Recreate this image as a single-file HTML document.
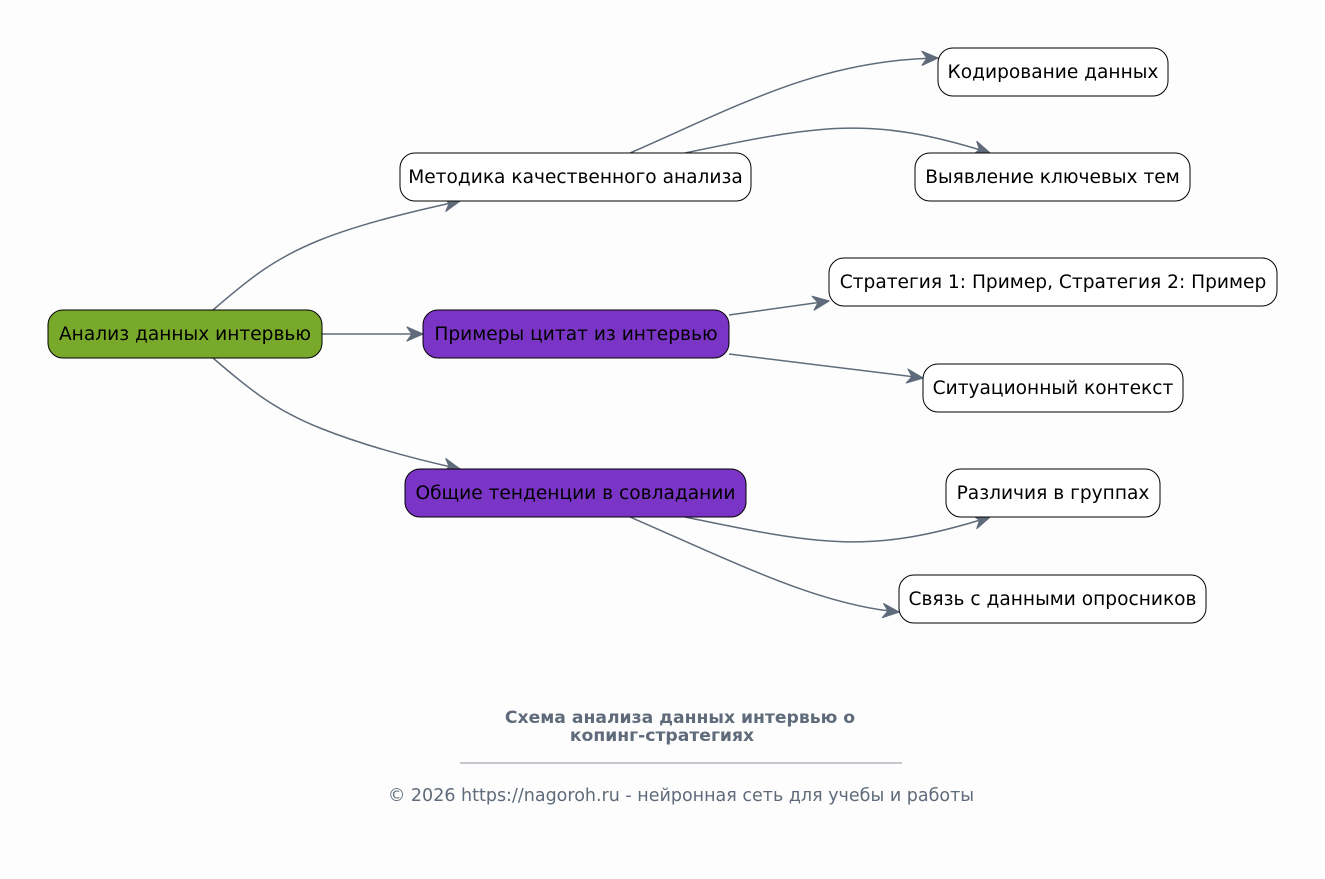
<!DOCTYPE html>
<html><head><meta charset="utf-8"><style>
html,body{margin:0;padding:0;background:#fdfdfd;}
svg{display:block;}
text{font-family:"DejaVu Sans","Liberation Sans",sans-serif;}
</style></head><body>
<svg width="1325" height="879" viewBox="0 0 1325 879" xmlns="http://www.w3.org/2000/svg">
<defs>
<marker id="ar" viewBox="0 0 20 20" refX="18" refY="10" markerWidth="20" markerHeight="20" markerUnits="userSpaceOnUse" orient="auto">
<path d="M2,3 L18,10 L2,17 L7,10 Z" fill="#5f6b7a" stroke="#5f6b7a" stroke-width="1.2" stroke-linejoin="round"/>
</marker>
</defs>
<g fill="none" stroke="#5f6b7a" stroke-width="1.5" marker-end="url(#ar)">
<path d="M213,310 C250,278 275,258 320,240 C360,224 410,212 460,201"/>
<path d="M322,334 L423,334"/>
<path d="M213,358 C250,390 275,410 320,428 C360,444 410,458 460,469"/>
<path d="M630,153 C740,105 820,60 938,58"/>
<path d="M685,153 C820,125 870,115 990,153"/>
<path d="M729,315 L829,301"/>
<path d="M729,354 L923,378"/>
<path d="M685,517 C820,545 870,555 990,517"/>
<path d="M630,517 C740,565 820,605 899,612"/>
</g>
<g stroke="#000" stroke-width="1">
<rect x="48" y="310" width="274" height="48" rx="15" fill="#79a92a"/>
<rect x="400" y="153" width="351" height="48" rx="15" fill="#fff"/>
<rect x="423" y="310" width="306" height="48" rx="15" fill="#7b35c6"/>
<rect x="405" y="469" width="341" height="48" rx="15" fill="#7b35c6"/>
<rect x="938" y="48" width="230" height="48" rx="15" fill="#fff"/>
<rect x="915" y="153" width="275" height="48" rx="15" fill="#fff"/>
<rect x="829" y="258" width="448" height="48" rx="15" fill="#fff"/>
<rect x="923" y="364" width="260" height="48" rx="15" fill="#fff"/>
<rect x="946" y="469" width="214" height="48" rx="15" fill="#fff"/>
<rect x="899" y="575" width="307" height="48" rx="15" fill="#fff"/>
</g>
<g font-size="18.6" fill="#000" text-anchor="middle">
<text x="185" y="340">Анализ данных интервью</text>
<text x="575.5" y="183">Методика качественного анализа</text>
<text x="576" y="340">Примеры цитат из интервью</text>
<text x="575.5" y="499">Общие тенденции в совладании</text>
<text x="1053" y="78">Кодирование данных</text>
<text x="1052.5" y="183">Выявление ключевых тем</text>
<text x="1053" y="288">Стратегия 1: Пример, Стратегия 2: Пример</text>
<text x="1053" y="394">Ситуационный контекст</text>
<text x="1053" y="499">Различия в группах</text>
<text x="1052.5" y="605">Связь с данными опросников</text>
</g>
<g fill="#5f6b7a" text-anchor="middle">
<text x="680" y="723" font-size="17.2" font-weight="bold">Схема анализа данных интервью о</text>
<text x="662" y="741" font-size="17.2" font-weight="bold">копинг-стратегиях</text>
<line x1="460" y1="763" x2="902" y2="763" stroke="#8a939e" stroke-width="1"/>
<text x="681" y="801" font-size="17.5">© 2026 https://nagoroh.ru - нейронная сеть для учебы и работы</text>
</g>
</svg>
</body></html>
